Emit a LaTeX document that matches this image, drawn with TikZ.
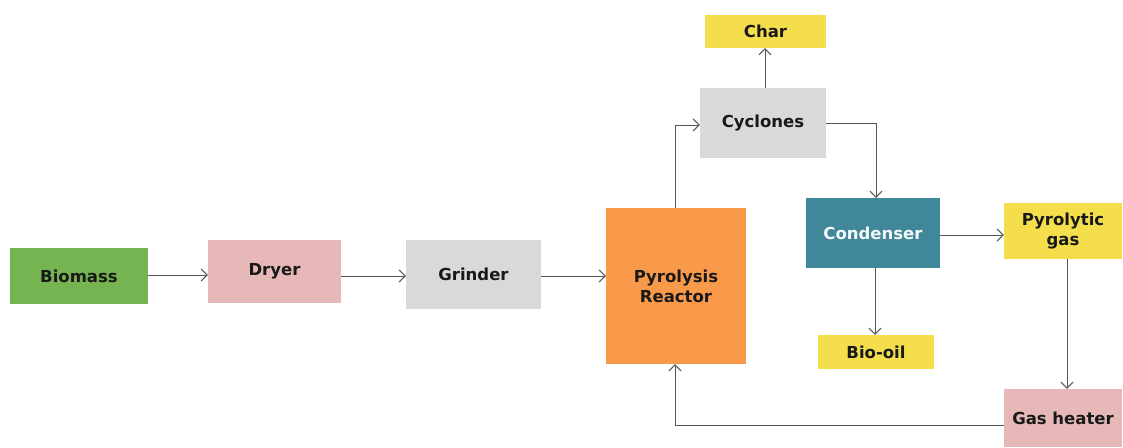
\documentclass[tikz,border=0pt]{standalone}
\usepackage{fontspec}
\setmainfont{DejaVu Sans}
\usetikzlibrary{arrows.meta}
\definecolor{cgreen}{HTML}{76B451}
\definecolor{cpink}{HTML}{E6B9B8}
\definecolor{cgray}{HTML}{D9D9D9}
\definecolor{corange}{HTML}{F89A4A}
\definecolor{cteal}{HTML}{41879A}
\definecolor{cyellow}{HTML}{F5DE4C}
\definecolor{cline}{HTML}{555555}
\tikzset{
  box/.style={draw=none, inner sep=0pt, align=center, font=\bfseries\fontsize{16.5}{20}\selectfont, text=black!90},
  conn/.style={draw=cline, line width=1pt, -{Straight Barb[length=6pt,width=12pt]}},
}
\newcommand{\bx}[7]{% name, x1, y1, x2, y2, color, text
  \node[box, fill=#6, minimum width={(#4-#2)*1pt}, minimum height={(#5-#3)*1pt}] (#1) at ({(#2+#4)/2*1pt},{-(#3+#5)/2*1pt}) {#7};}
\begin{document}
\begin{tikzpicture}
\useasboundingbox (0,0) rectangle (1123pt,-447pt);
\bx{biomass}{10}{248}{148}{304}{cgreen}{Biomass}
\bx{dryer}{208}{240}{341}{303}{cpink}{Dryer}
\bx{grinder}{406}{240}{541}{309}{cgray}{Grinder}
\bx{reactor}{606}{208}{746}{364}{corange}{Pyrolysis\\Reactor}
\bx{cyclones}{700}{88}{826}{158}{cgray}{Cyclones}
\bx{char}{705}{15}{826}{48}{cyellow}{Char}
\bx{condenser}{806}{198}{940}{268}{cteal}{\textcolor{white!95!cteal}{Condenser}}
\bx{pgas}{1004}{203}{1122}{259}{cyellow}{Pyrolytic\\gas}
\bx{biooil}{818}{335}{934}{369}{cyellow}{Bio-oil}
\bx{heater}{1004}{389}{1122}{447}{cpink}{Gas heater}
\coordinate (c1) at (675pt,-125pt);
\coordinate (c2) at (876pt,-123pt);
\coordinate (c3) at (675pt,-425pt);
\draw[conn] (biomass.east |- 0,-275pt) -- (dryer.west |- 0,-275pt);
\draw[conn] (dryer.east |- 0,-276pt) -- (grinder.west |- 0,-276pt);
\draw[conn] (grinder.east |- 0,-276pt) -- (reactor.west |- 0,-276pt);
\draw[conn] (reactor.north -| c1) -- (c1) -- (cyclones.west |- c1);
\draw[conn] (cyclones.north -| 765pt,0) -- (char.south -| 765pt,0);
\draw[conn] (cyclones.east |- c2) -- (c2) -- (condenser.north -| c2);
\draw[conn] (condenser.south -| 875pt,0) -- (biooil.north -| 875pt,0);
\draw[conn] (condenser.east |- 0,-235pt) -- (pgas.west |- 0,-235pt);
\draw[conn] (pgas.south -| 1067pt,0) -- (heater.north -| 1067pt,0);
\draw[conn] (heater.west |- c3) -- (c3) -- (reactor.south -| c3);
\end{tikzpicture}
\end{document}
